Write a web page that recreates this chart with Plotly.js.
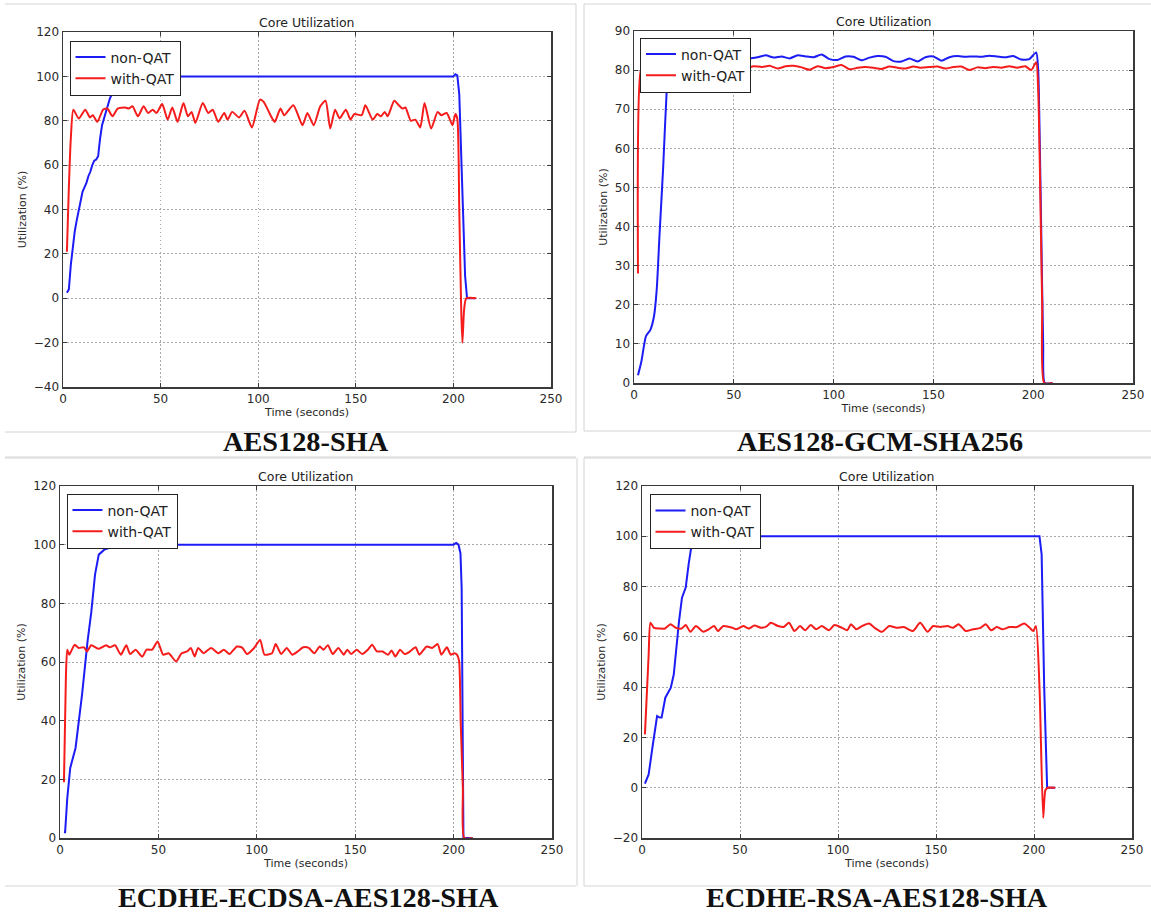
<!DOCTYPE html>
<html>
<head>
<meta charset="utf-8">
<script src="https://cdn.plot.ly/plotly-3.0.1.min.js"></script>
<style>html,body{margin:0;padding:0;background:#fff;}#chart{width:1151px;height:919px;}</style>
</head>
<body>
<div id="chart"></div>
<script>
// ---------- Data ----------
const captions = ["AES128-SHA", "AES128-GCM-SHA256", "ECDHE-ECDSA-AES128-SHA", "ECDHE-RSA-AES128-SHA"];
const seriesNames = ["non-QAT", "with-QAT"];
const chartTitle = "Core Utilization";
const xLabel = "Time (seconds)";
const yLabel = "Utilization (%)";

// Panel 1: AES128-SHA
const aesShaBlueX = [2,3,4,5,6,7,8,9,10,11,12,13,14,15,16,17,18,19,20,21,22,23,24,25,26,27,28,29,30,40,60,80,100,120,140,160,180,198,200,201,202,203,204,205,206,207,208,210,211];
const aesShaBlueY = [2.5,4,15,24,30,35,39,44,48,50,52,55,57,60,62,62.5,64,72,78,81,84,88,90,92,95,97,99,100.5,100,100,100,100,100,100,100,100,100,100,100,101,100.5,92,65,35,10,0,0,0,0];
const aesShaRedX = [2,3,4,5.3,8.1,11.4,13.8,15.3,17.6,20.5,22.7,25.4,28,31.8,33.7,35.6,38.4,41.3,43.6,46,47.9,50.8,53.6,56,58.7,61.7,64,65.9,67.8,71.6,74.4,76.7,79.5,82.6,84.3,86.7,90.2,93,96.8,100.9,102.8,106.6,108.5,111.4,113.3,118,122.7,125.2,128.4,131.8,134.5,136.9,139.4,141.7,144.9,147.3,149.2,153,154.9,158.7,161,162.9,164.8,166.3,169.7,172,173.9,175.4,178.2,180.5,183,185.2,188.6,191.9,193.8,196.6,199.5,201,202,203,204,204.6,205.5,206.6,211.7];
const aesShaRedY = [21,50,72,85,81,85,81.5,82.5,79.5,85,85.5,82,85.5,86,85.5,86.5,82,86.5,83.5,85,83.5,87.5,80.5,86,79.5,88,82,84,79,88,83.5,85,79.5,83.5,80.5,84,81.5,84.5,77,89.5,88.5,82,79.5,85.5,82.5,87,78,83.5,78,86.5,89,76.5,85,81,85,80.5,83,82.5,87,80.5,83,82,84,82,89,87,85.5,86,80,80.5,77,88,76.5,84,82.5,83.5,78,83,81,40,-5,-20,-5,0,0];

// Panel 2: AES128-GCM-SHA256
const gcmBlueX = [2,3.7,6,8.2,10,11.4,12.8,14.6,16.5,17.5,18.5,22,26,30,34,38,42,46,50,54,58,62,66,70,74,78,82,86,90,94,98,102,106,110,114,118,122,126,130,134,138,142,146,150,154,158,162,166,170,174,178,182,186,190,194,198,201.5,202.5,203,204,205,205.8,209.7];
const gcmBlueY = [2,5.5,12,13.6,17,24,38,55,76,82,83.2,83.5,83,83.5,83.2,83.8,83.3,83.5,83.2,83.6,83,83.3,83.8,83.2,83.5,83,83.8,83.5,83.3,84,82.8,82.6,83.5,83.4,82.5,83.2,83.6,83.4,82.3,82.2,83,82.2,83.3,83.5,82.4,83.3,83.6,83.4,83.5,83.4,83.7,83.5,83.3,83.6,82.7,82.8,84.5,80,70,40,10,0,0];
const gcmRedX = [2,3.5,5,8,12,16,20,24,28,32,36,40,44,48,52,56,60,64,68,72,76,80,84,88,92,96,100,104,108,112,116,120,124,128,132,136,140,144,148,152,156,160,164,168,172,176,180,184,188,192,196,199,201.5,202.5,203.5,204.5,205.5,209.7];
const gcmRedY = [28,80,80.5,81,80.4,81,80.6,80.8,80.4,81,80.5,80.8,80.4,80.9,80.6,80.4,81,80.8,81.1,80.4,81,81.1,80.7,80.1,81,80.5,80.8,81.3,80.2,80.6,80.8,80.6,80.3,80.9,80.6,80.4,80.9,80.6,80.8,80.9,80.4,80.8,80.9,80,80.7,80.5,80.8,80.6,81,80.6,81,80,82,75,50,20,0,0];

// Panel 3: ECDHE-ECDSA-AES128-SHA
const ecdsaBlueX = [2,2.6,3.7,5.2,7.9,11.2,14,15.9,17.8,19.7,22.5,25.3,30.9,38.4,60,100,150,200,201.3,202.5,203.5,204.1,205,209.7];
const ecdsaBlueY = [2,2,13.6,23.9,30.7,48.9,67,77,89.8,96.6,98.3,98.9,99.3,100,100,100,100,100,100.6,100,97,85,0,0];
const ecdsaRedX = [2,3,3.7,4.7,5.6,7.5,9.4,12.2,13.7,15.9,19.7,23.4,25.3,28,30.9,33.7,35.6,38.4,41.8,44,46.8,49.6,52.4,55.2,59,61.8,64.6,66.5,68.4,70.2,73,76.8,80.5,83.3,86.1,89.9,92.7,95,98.3,101.7,103.9,107.7,109.6,112.4,115.2,118,120.8,123.6,126.4,129.2,132,133.9,136.1,138.6,141.4,144.2,146,147.9,150.7,153.6,156.4,158.6,161,163.9,166.7,168.5,170.4,172.8,175.1,177.9,180.7,182.6,186.3,189.1,191.9,193.8,196.6,198.5,200.4,201.7,202.8,203.6,204.7,205.4,209.7];
const ecdsaRedY = [19,55,64.2,62.5,63.6,65.9,64.8,65,63.6,65.7,64.5,65.7,65,65.7,62.5,65.7,62.7,64.2,61.8,64.2,64.2,67,62.5,63,60.2,63,63.6,64.8,61.9,64.8,63,64.8,63,64.2,62.7,65.3,64.8,62.7,64.5,67.5,62.5,63,66.1,62.7,64.8,62.5,63.6,65,64.8,63,65.3,64.2,65.7,62.7,64.8,62.5,64.2,62.7,64.2,62.7,64.2,65.9,63.6,63.6,62.5,63.9,61.9,64.2,62.7,63.6,65,62.5,65.3,64.8,66.1,62.5,65,62.5,63,62.5,60.2,39.8,17,0,0];

// Panel 4: ECDHE-RSA-AES128-SHA
const rsaBlueX = [1.5,3.4,5.3,6.6,7.7,9.1,10,11.9,13.2,14.7,16.2,17.5,18.9,20.4,22.3,23.8,25.1,27,28.3,30.2,60,100,150,202.8,203.9,205.2,206.7,210.8];
const rsaBlueY = [1.6,5.3,15.9,23.9,28.5,27.9,27.9,35.8,37.8,39.8,45,55.7,66.3,75.6,79.6,88.9,95.5,95.8,96.8,100,100,100,100,100,92.8,40,0,0];
const rsaRedX = [1.5,3.4,4.3,6.1,8.9,11.7,14.5,17.3,20.1,22.3,24.7,27.5,31.3,34,36.8,38.7,41.5,46.1,48,51.7,54.5,57.3,61,63.8,65.7,69.4,72.2,75,77.8,80.6,83.3,86.1,88.9,91.7,95.4,98.2,102,104.7,106.6,109.4,112.2,115.9,118.7,122.4,126.1,129.9,133.6,138.2,141.9,145.7,148.5,152.2,155.9,158.7,161.5,165.2,168.9,172.7,175.4,178.2,181,183.8,187.5,191.3,195,197.8,199.6,201,202.8,204.7,205.8,207,210.8];
const rsaRedY = [21.2,53,65.6,63.6,63.3,63.3,65,63.6,63.3,64.7,62,64.3,62,63,64.3,62.3,64.3,63.6,63,64.3,63.3,64.5,63.6,64.3,65.6,64.3,63.9,65.6,62.3,64.3,62.6,64.7,63,64.3,62.6,64.7,63.6,62.6,65,63,64.3,65.3,63.6,62,64.3,63.6,63.9,62.3,65.6,62,64.3,63.9,64.3,63.6,65,62.3,63,63.6,65,62.6,63.9,63,63.9,63.9,65.3,63.6,62.3,64.3,40,-12,-1,0,0];

const yRanges = [[-40,120],[0,90],[0,120],[-20,120]];
const yDticks = [20,10,20,20];

// ---------- Layout geometry (pixels) ----------
const W = 1151, H = 919;
const boxes = [
  {l:63,  r:551,  t:32,  b:387},
  {l:634, r:1133, t:31,  b:383},
  {l:60,  r:552,  t:486, b:838},
  {l:642, r:1132, t:486, b:838}
];
const legendPos = [{x:69.5,y:40.5},{x:640,y:37.5},{x:66.5,y:493.5},{x:649.5,y:494}];
const captionPos = [{x:306,y:441},{x:880,y:441},{x:308,y:897},{x:877,y:897}];

const px = v => v / W;
const py = v => 1 - v / H;

const panels = [
  [aesShaBlueX, aesShaBlueY, aesShaRedX, aesShaRedY],
  [gcmBlueX, gcmBlueY, gcmRedX, gcmRedY],
  [ecdsaBlueX, ecdsaBlueY, ecdsaRedX, ecdsaRedY],
  [rsaBlueX, rsaBlueY, rsaRedX, rsaRedY]
];
const blue = '#1c1cf5', red = '#f51c1c';
const fontFam = 'DejaVu Sans, Arial, sans-serif';

const traces = [];
const layout = {
  width: W, height: H,
  margin: {l:0, r:0, t:0, b:0},
  paper_bgcolor: '#fff', plot_bgcolor: '#fff',
  font: {family: fontFam, color: '#222', size: 12},
  annotations: [], shapes: []
};

panels.forEach((p, i) => {
  const n = i === 0 ? '' : String(i + 1);
  const lg = i === 0 ? 'legend' : 'legend' + (i + 1);
  traces.push({x: p[0], y: p[1], type: 'scatter', mode: 'lines', name: seriesNames[0],
    line: {color: blue, width: 2, shape: i === 1 ? 'spline' : 'linear', smoothing: 0.6},
    xaxis: 'x' + n, yaxis: 'y' + n, legend: lg, hoverinfo: 'x+y'});
  traces.push({x: p[2], y: p[3], type: 'scatter', mode: 'lines', name: seriesNames[1],
    line: {color: red, width: 2, shape: 'spline', smoothing: 0.6},
    xaxis: 'x' + n, yaxis: 'y' + n, legend: lg, hoverinfo: 'x+y'});
  const b = boxes[i];
  const axCommon = {
    showline: true, linecolor: '#3a3a3a', linewidth: 1.5, mirror: 'allticks',
    ticks: 'inside', ticklen: 4, tickcolor: '#3a3a3a', tickwidth: 1,
    showgrid: true, gridcolor: '#a8a8a8', griddash: '1.5px,2.5px', gridwidth: 1,
    zeroline: false, tickfont: {size: 12, color: '#2a2a2a', family: fontFam}
  };
  layout['xaxis' + n] = Object.assign({}, axCommon, {
    domain: [px(b.l), px(b.r)], anchor: 'y' + n, range: [0, 250], dtick: 50, tick0: 0,
    title: {text: xLabel, font: {size: 11, color: '#2a2a2a'}, standoff: 3}
  });
  layout['yaxis' + n] = Object.assign({}, axCommon, {
    domain: [py(b.b), py(b.t)], anchor: 'x' + n, range: yRanges[i], dtick: yDticks[i], tick0: 0,
    title: {text: yLabel, font: {size: 11, color: '#2a2a2a'}, standoff: 5}
  });
  layout[lg] = {
    x: px(legendPos[i].x), y: py(legendPos[i].y), xanchor: 'left', yanchor: 'top',
    bgcolor: '#fff', bordercolor: '#222', borderwidth: 1,
    font: {size: 14, color: '#222', family: fontFam}, tracegroupgap: 0
  };
  layout.annotations.push({
    text: chartTitle, xref: 'paper', yref: 'paper', x: px((b.l + b.r) / 2), y: py(b.t - 9.5),
    xanchor: 'center', yanchor: 'middle', showarrow: false, font: {size: 12.5, color: '#222', family: fontFam}
  });
  layout.annotations.push({
    text: '<b>' + captions[i] + '</b>', xref: 'paper', yref: 'paper',
    x: px(captionPos[i].x), y: py(captionPos[i].y), xanchor: 'center', yanchor: 'middle',
    showarrow: false, font: {size: 28.3, color: '#111', family: 'Liberation Serif, Times New Roman, serif'}
  });
});

// faint frame lines around the four image panels
const frameLines = [
  [5,4,576,4],[5,432,576,432],[5,457,576,457],[576,4,576,432],
  [584,4,1151,4],[584,4,584,431],[584,431,1151,431],[584,457,1151,457],
  [5,458,576,458],[5,886,576,886],[577,458,577,886],
  [584,458,1151,458],[584,458,584,886],[584,886,1151,886]
];
frameLines.forEach(f => layout.shapes.push({type: 'line', xref: 'paper', yref: 'paper',
  x0: px(f[0]), y0: py(f[1]), x1: px(f[2]), y1: py(f[3]), line: {color: '#d4d4d4', width: 1}}));

Plotly.newPlot('chart', traces, layout, {displayModeBar: false, staticPlot: true});
</script>
</body>
</html>
